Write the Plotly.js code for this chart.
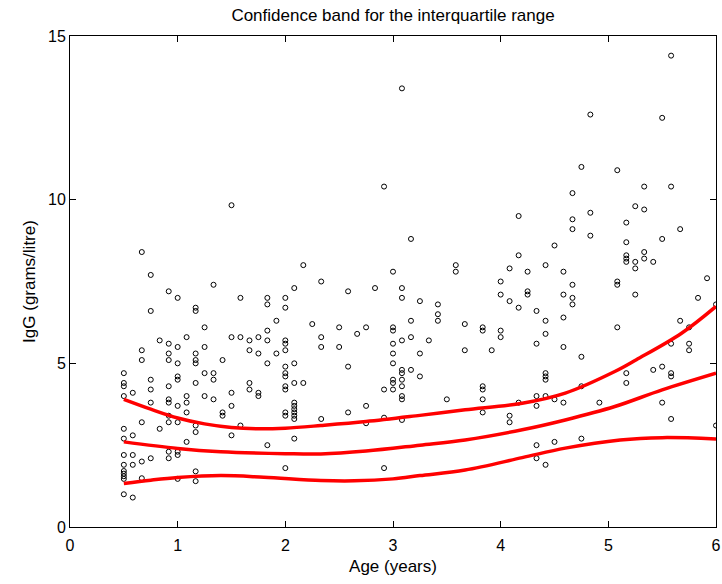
<!DOCTYPE html>
<html>
<head>
<meta charset="utf-8">
<script src="https://cdn.plot.ly/plotly-3.0.1.min.js"></script>
<style>html,body{margin:0;padding:0;background:#fff;}#chart{width:722px;height:584px;}</style>
</head>
<body>
<div id="chart"></div>
<script>
// Observed data: age (years) and IgG (grams/litre)
const ages = [
0.667,0.75,1.333,0.917,1.0,0.75,1.167,1.167,1.25,1.083,0.833,0.917,1.0,1.25,0.667,0.917,1.167,
0.667,0.917,1.167,1.167,1.0,0.5,1.25,1.333,1.0,1.0,0.75,1.333,0.5,1.167,0.5,0.917,0.75,0.583,0.5,1.083,1.25,
1.333,0.917,0.917,0.75,1.083,1.0,1.083,0.917,0.917,1.0,0.667,1.167,0.833,0.5,1.167,0.583,0.5,1.083,0.917,1.0,
1.0,0.5,0.583,0.917,0.75,0.667,0.5,0.583,0.5,1.167,0.5,0.5,0.5,0.667,1.0,1.167,0.5,0.583,
1.5,2.167,2.333,2.083,1.583,1.833,2.0,1.833,2.0,1.917,2.25,1.833,1.5,1.583,1.667,1.75,1.833,2.0,2.0,2.333,2.333,
1.667,1.75,1.917,2.0,
1.417,1.833,2.083,2.0,2.0,2.0,1.667,2.083,2.167,2.0,2.0,1.667,1.75,1.75,1.5,1.5,2.083,2.083,2.083,2.083,2.083,
2.083,2.0,2.0,1.417,1.417,2.333,1.583,1.5,1.833,2.083,2.0,
3.083,2.917,3.167,3.0,2.583,2.833,3.083,3.083,3.25,3.167,2.5,2.75,3.0,3.0,2.667,3.167,3.083,2.5,3.0,3.0,3.25,
2.583,3.0,3.083,3.083,3.167,3.25,3.0,3.0,3.083,3.083,2.917,3.0,3.083,3.083,2.75,2.583,2.75,2.917,3.083,2.917,
4.167,4.167,3.583,3.583,4.083,4.0,4.0,4.083,4.167,3.417,3.417,3.417,3.667,3.833,3.833,4.0,4.0,3.333,3.667,3.917,
3.5,3.833,3.833,3.833,3.833,4.083,4.083,4.167,
4.75,5.083,4.667,4.833,4.667,4.667,4.833,4.5,4.417,4.25,4.583,4.667,5.083,5.083,4.25,4.25,4.583,4.667,4.667,
4.333,4.583,4.417,5.083,4.417,4.333,4.583,4.75,4.833,
4.417,4.417,4.417,4.333,4.417,4.5,4.583,4.333,4.75,4.917,4.333,4.5,4.75,4.333,4.417,
5.583,5.5,5.333,5.583,5.25,5.333,5.167,5.667,5.5,5.167,5.333,5.167,5.167,5.167,5.25,5.333,5.417,5.25,5.917,
5.833,5.25,6.0,5.667,5.75,5.583,5.75,5.75,
5.167,5.167,5.417,5.5,5.583,5.583,5.5,5.583,6.0
];
const igg = [
8.4,7.7,7.4,7.2,7.0,6.6,6.7,6.6,6.1,5.8,5.7,5.6,5.5,5.5,5.4,5.3,5.3,
5.1,5.1,5.1,5.0,5.0,4.7,4.7,4.7,4.6,4.5,4.5,4.5,4.4,4.4,4.3,4.3,4.2,4.1,4.0,4.0,4.0,
3.9,3.9,3.8,3.8,3.8,3.7,3.5,3.4,3.2,3.2,3.2,3.1,3.0,3.0,2.9,2.8,2.7,2.6,2.3,2.3,
2.2,2.2,2.2,2.1,2.1,2.0,1.9,1.9,1.71,1.7,1.63,1.55,1.47,1.49,1.47,1.4,1.0,0.9,
9.83,8.0,7.5,7.3,7.0,7.0,7.0,6.8,6.7,6.3,6.2,6.0,5.8,5.8,5.7,5.8,5.7,5.7,5.6,5.8,5.5,
5.4,5.3,5.3,5.4,
5.1,5.0,5.0,4.9,4.7,4.6,4.4,4.4,4.4,4.3,4.2,4.2,4.1,4.0,4.1,3.7,3.8,3.7,3.6,3.5,3.4,
3.3,3.5,3.4,3.5,3.4,3.3,3.1,2.8,2.5,2.7,1.8,
13.4,10.4,8.8,7.8,7.2,7.3,7.3,7.0,6.9,6.3,6.1,6.1,6.1,6.0,5.9,5.8,5.7,5.5,5.6,5.3,5.3,
4.9,5.0,4.8,4.7,4.8,4.6,4.5,4.4,4.5,4.3,4.2,4.2,4.0,3.9,3.7,3.5,3.17,3.34,3.27,1.8,
9.5,8.3,8.0,7.8,7.9,7.5,7.1,6.9,6.7,6.8,6.5,6.3,6.2,6.1,6.0,6.0,5.8,5.7,5.4,5.4,
3.9,4.3,4.2,3.9,3.5,3.4,3.2,3.8,
11.0,10.9,10.2,9.6,9.4,9.1,8.9,8.6,8.0,7.8,7.8,7.4,7.5,7.4,7.2,7.1,7.1,7.0,6.8,
6.6,6.4,6.3,6.1,5.9,5.6,5.5,5.2,12.6,
4.7,4.6,4.5,4.0,4.0,3.9,3.8,3.7,4.3,3.8,2.5,2.6,2.7,2.1,1.9,
14.4,12.5,10.4,10.4,9.8,9.7,9.3,9.1,8.8,8.7,8.4,8.3,8.2,8.1,8.1,8.2,8.1,7.9,7.6,
7.0,7.1,6.8,6.3,6.1,5.6,5.6,5.4,
4.7,4.4,4.8,4.9,4.7,4.6,3.8,3.3,3.1
];

// Fitted curves
const upperX = [0.5,0.75,1.0,1.25,1.5,1.75,2.0,2.33,2.75,3.25,3.67,4.2,4.6,5.06,5.26,5.68,6.0];
const upperY = [3.9,3.6,3.33,3.15,3.04,3.0,3.02,3.1,3.22,3.41,3.58,3.78,4.09,4.75,5.11,5.92,6.74];
const midX = [0.5,1.0,1.4,2.0,2.33,2.75,3.25,3.67,4.2,4.6,5.06,5.5,6.0];
const midY = [2.6,2.4,2.3,2.24,2.23,2.32,2.5,2.66,2.97,3.27,3.68,4.19,4.7];
const lowX = [0.5,0.75,1.0,1.4,1.8,2.33,2.64,3.0,3.25,3.67,4.2,4.6,5.11,5.5,6.0];
const lowY = [1.33,1.43,1.51,1.57,1.52,1.42,1.41,1.47,1.57,1.74,2.12,2.41,2.66,2.73,2.69];

const xTicks = [0,1,2,3,4,5,6];
const yTicks = [0,5,10,15];

const curveStyle = {color:'#ff0000', width:3.5, shape:'spline', smoothing:1};
const traces = [
  {x: ages, y: igg, type:'scatter', mode:'markers',
   marker:{symbol:'circle-open', size:5, color:'#000', line:{width:1, color:'#000'}}, hoverinfo:'x+y'},
  {x: upperX, y: upperY, type:'scatter', mode:'lines', line: curveStyle},
  {x: midX, y: midY, type:'scatter', mode:'lines', line: curveStyle},
  {x: lowX, y: lowY, type:'scatter', mode:'lines', line: curveStyle}
];

const fam = 'Liberation Sans, Arial, sans-serif';
const tickFont = {family:fam, size:16, color:'#000'};
const labelFont = {family:fam, size:17, color:'#000'};
const layout = {
  width:722, height:584,
  margin:{l:70, r:6, t:36, b:57},
  paper_bgcolor:'#fff', plot_bgcolor:'#fff',
  showlegend:false,
  font: tickFont,
  title:{text:'Confidence band for the interquartile range', font:{family:fam, size:17, color:'#000'},
         x:0.5, xref:'paper', y:1-15/584, yanchor:'middle'},
  xaxis:{range:[0,6], tickvals:xTicks, ticktext:xTicks.map(String), ticks:'inside', ticklen:6,
         tickcolor:'#000', showline:true, linecolor:'#000', linewidth:1, mirror:'ticks',
         showgrid:false, zeroline:false, tickfont:tickFont, ticklabelstandoff:4,
         title:{text:'Age (years)', font:labelFont, standoff:6}},
  yaxis:{range:[0,15], tickvals:yTicks, ticktext:yTicks.map(String), ticks:'inside', ticklen:6,
         tickcolor:'#000', showline:true, linecolor:'#000', linewidth:1, mirror:'ticks',
         showgrid:false, zeroline:false, tickfont:tickFont,
         title:{text:'IgG (grams/litre)', font:labelFont, standoff:8}}
};
Plotly.newPlot('chart', traces, layout, {displayModeBar:false, staticPlot:true});
</script>
</body>
</html>
